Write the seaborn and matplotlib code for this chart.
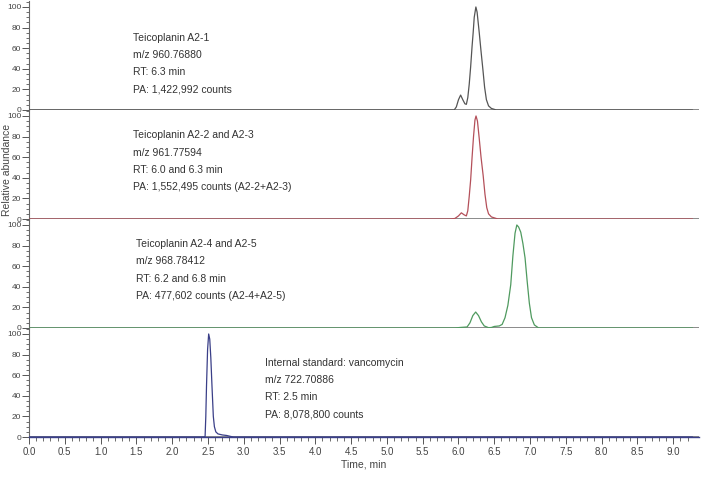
import matplotlib
matplotlib.use("Agg")
import matplotlib.pyplot as plt
import seaborn as sns
import pandas as pd
import numpy as np
from matplotlib.ticker import MultipleLocator, FixedLocator

# ---- data ----
t_a21 = [0.0, 5.94, 5.97, 6.00, 6.03, 6.06, 6.09, 6.11, 6.13, 6.15, 6.17, 6.19, 6.205, 6.22,
         6.243, 6.26, 6.29, 6.315, 6.34, 6.365, 6.39, 6.42, 6.46, 6.53, 9.27]
i_a21 = [0, 0, 3, 10, 14.5, 10, 6, 5.5, 12, 25, 42, 62, 75, 90,
         100, 95, 75, 57, 40, 22, 10, 4, 1.5, 0, 0]

t_a22 = [0.0, 5.88, 5.95, 6.00, 6.04, 6.08, 6.11, 6.13, 6.15, 6.17, 6.19, 6.21, 6.23, 6.245,
         6.265, 6.29, 6.315, 6.345, 6.37, 6.395, 6.42, 6.46, 6.55, 9.27]
i_a22 = [0, 0, 0.5, 3, 6, 4, 3, 8, 22, 38, 60, 80, 96, 100,
         95, 78, 60, 42, 24, 11, 5, 2, 0, 0]

t_a24 = [0.0, 5.95, 6.02, 6.12, 6.16, 6.20, 6.24, 6.28, 6.32, 6.36, 6.42, 6.46, 6.50, 6.57,
         6.61, 6.65, 6.69, 6.73, 6.76, 6.79, 6.815, 6.84, 6.87, 6.90, 6.93, 6.96, 6.99, 7.02,
         7.06, 7.12, 9.27]
i_a24 = [0, 0, 0.5, 1, 5, 12, 15.5, 12, 6, 2, 0.3, 0.5, 1.5, 2,
         3.5, 10, 22, 42, 70, 92, 100, 98, 93, 82, 68, 45, 24, 10,
         3, 0, 0]

t_vanc = [0.0, 2.44, 2.46, 2.47, 2.48, 2.495, 2.51, 2.525, 2.54, 2.556, 2.575, 2.59, 2.61,
          2.64, 2.70, 2.76, 2.82, 2.86, 9.27]
i_vanc = [0, 0, 0.5, 20, 50, 85, 100, 95, 77, 50, 20, 10, 5,
          3, 2, 1.5, 0.5, 0, 0]

labels_a21 = ["Teicoplanin A2-1", "m/z 960.76880", "RT: 6.3 min", "PA: 1,422,992 counts"]
labels_a22 = ["Teicoplanin A2-2 and A2-3", "m/z 961.77594", "RT: 6.0 and 6.3 min",
              "PA: 1,552,495 counts (A2-2+A2-3)"]
labels_a24 = ["Teicoplanin A2-4 and A2-5", "m/z 968.78412", "RT: 6.2 and 6.8 min",
              "PA: 477,602 counts (A2-4+A2-5)"]
labels_vanc = ["Internal standard: vancomycin", "m/z 722.70886", "RT: 2.5 min",
               "PA: 8,078,800 counts"]

x_major_ticks = [0.0, 0.5, 1.0, 1.5, 2.0, 2.5, 3.0, 3.5, 4.0, 4.5, 5.0, 5.5, 6.0, 6.5,
                 7.0, 7.5, 8.0, 8.5, 9.0]
y_ticks = [0, 20, 40, 60, 80, 100]

# ---- style ----
sns.set_style("ticks")
plt.rcParams['font.family'] = ['Liberation Sans', 'DejaVu Sans']

panels = [
    (t_a21, i_a21, "#555555", labels_a21),
    (t_a22, i_a22, "#b4505a", labels_a22),
    (t_a24, i_a24, "#4f9a5f", labels_a24),
    (t_vanc, i_vanc, "#3a3f88", labels_vanc),
]
text_x_px = [133, 133, 136, 265]
text_tops = [0.665, 0.767, 0.769, 0.680]

fig = plt.figure(figsize=(7.18, 4.86), dpi=100)
left, right = 29 / 718, 699 / 718
ph = 109 / 486
bottom0 = (486 - 437) / 486
xmax = 9.36

for k, (t, inten, col, labs) in enumerate(panels):
    b = bottom0 + (3 - k) * ph
    ax = fig.add_axes([left, b, right - left, ph])
    ax.set_facecolor("none")
    df = pd.DataFrame({"t": t, "i": inten})
    ax.axhline(0, color="#8a8a8a", lw=1.4, zorder=1)
    sns.lineplot(data=df, x="t", y="i", ax=ax, color=col, lw=0.9, zorder=3,
                 sort=False, estimator=None)
    ax.set_xlim(0, xmax)
    ax.set_ylim(0, 105.8)
    ax.set_xlabel("")
    ax.set_ylabel("")
    ax.yaxis.set_major_locator(FixedLocator(y_ticks))
    ax.yaxis.set_minor_locator(MultipleLocator(5))
    ax.tick_params(axis="y", which="major", length=5, width=0.7, labelsize=6,
                   labelcolor="#444444", color="#555555", pad=0.5)
    ax.tick_params(axis="y", which="minor", length=2.5, width=0.6, color="#555555")
    for s in ["top", "right"]:
        ax.spines[s].set_visible(False)
    ax.spines["left"].set_color("#666666")
    ax.spines["left"].set_linewidth(0.8)
    if k < 3:
        ax.spines["bottom"].set_visible(False)
        ax.tick_params(axis="x", which="both", bottom=False, labelbottom=False)
    else:
        ax.spines["bottom"].set_color(col)
        ax.spines["bottom"].set_linewidth(1.0)
        ax.xaxis.set_major_locator(FixedLocator(x_major_ticks))
        ax.xaxis.set_minor_locator(FixedLocator(np.round(np.arange(0, 9.21, 0.1), 2)))
        ax.set_xticklabels([f"{v:.1f}" for v in x_major_ticks])
        ax.tick_params(axis="x", which="major", length=5, width=0.7, labelsize=7,
                       labelcolor="#444444", color="#555555", pad=2)
        ax.tick_params(axis="x", which="minor", length=3, width=0.6, color="#555555")
        ax.set_xlabel("Time, min", fontsize=7.5, color="#444444", labelpad=2)
    ax.grid(False)
    # annotation block
    for j, lab in enumerate(labs):
        ax.text((text_x_px[k] - 29) / 670, text_tops[k] - j * 17.3 / 109, lab,
                transform=ax.transAxes, fontsize=7.5, color="#333333",
                va="center", ha="left")

fig.text(7 / 718, 1 - 170 / 486, "Relative abundance", rotation=90, fontsize=7.5,
         color="#444444", va="center", ha="center")

fig.savefig("out.png", dpi=100)
